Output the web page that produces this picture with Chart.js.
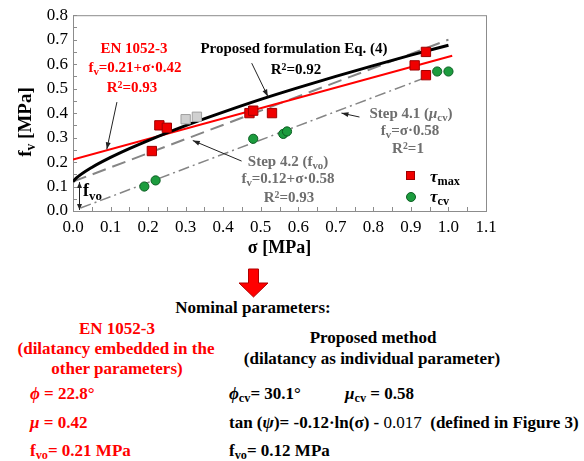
<!DOCTYPE html>
<html>
<head>
<meta charset="utf-8">
<script src="https://cdn.jsdelivr.net/npm/chart.js@4.4.1/dist/chart.umd.min.js"></script>
<style>
  body { margin: 0; background: #fff; }
  #wrap { position: relative; width: 584px; height: 461px; overflow: hidden;
          font-family: "Liberation Serif", "Times New Roman", serif; font-weight: bold; }
  #chartBox { position: absolute; left: 0; top: 0; width: 584px; height: 260px; }
  .t { position: absolute; white-space: nowrap; line-height: 1; }
  .c { transform: translate(-50%, -50%); }
  .l { transform: translate(0, -50%); }
  .a15 { font-size: 15px; }
  .b16 { font-size: 17px; }
  .red { color: #ff0000; }
  .grey { color: #6e6e6e; }
  .sb { font-size: 72%; position: relative; top: 0.28em; }
  .sp { font-size: 65%; position: relative; top: -0.45em; }
  .nb { font-weight: normal; }
  .mk { position: absolute; }
</style>
</head>
<body>
<div id="wrap">
  <div id="chartBox"><canvas id="chart" width="584" height="260"></canvas></div>

  <!-- y axis title -->
  <div class="t" style="left:24px;top:122px;font-size:19px;transform:translate(-50%,-50%) rotate(-90deg);">f<span class="sb">v</span> [MPa]</div>

  <!-- in-chart notes -->
  <div class="t c a15 red" style="left:134px;top:48px;">EN 1052-3</div>
  <div class="t c a15 red" style="left:135px;top:67px;">f<span class="sb">v</span>=0.21+σ·0.42</div>
  <div class="t c a15 red" style="left:132px;top:87px;">R<span class="sp">2</span>=0.93</div>

  <div class="t c a15" style="left:294px;top:48px;">Proposed formulation Eq. (4)</div>
  <div class="t c a15" style="left:296px;top:69px;">R<span class="sp">2</span>=0.92</div>

  <div class="t c a15 grey" style="left:411px;top:113px;">Step 4.1 (<i>μ</i><span class="sb">cv</span>)</div>
  <div class="t c a15 grey" style="left:410px;top:130px;">f<span class="sb">v</span>=σ·0.58</div>
  <div class="t c a15 grey" style="left:408px;top:148px;">R<span class="sp">2</span>=1</div>

  <div class="t c a15 grey" style="left:288px;top:161px;">Step 4.2 (f<span class="sb">vo</span>)</div>
  <div class="t c a15 grey" style="left:288px;top:178px;">f<span class="sb">v</span>=0.12+σ·0.58</div>
  <div class="t c a15 grey" style="left:289px;top:197px;">R<span class="sp">2</span>=0.93</div>

  <div class="t l" style="left:83px;top:190px;font-size:18px;">f<span class="sb">vo</span></div>

  <!-- legend -->
  <div class="mk" style="left:406px;top:171px;width:9px;height:9px;background:#f00000;border:1px solid #a00000;box-sizing:border-box;"></div>
  <div class="mk" style="left:406px;top:192px;width:10px;height:10px;border-radius:50%;background:#1c9c3e;border:1px solid #0b5e22;box-sizing:border-box;"></div>
  <div class="t l" style="left:430px;top:176px;font-size:17px;"><i>τ</i><span class="sb">max</span></div>
  <div class="t l" style="left:430px;top:196px;font-size:17px;"><i>τ</i><span class="sb">cv</span></div>

  <!-- red arrow -->
  <svg style="position:absolute;left:237px;top:268px;" width="34" height="31">
    <polygon points="11.5,1 21.5,1 21.5,15 31,15 16.5,29 2,15 11.5,15" fill="#ff0000" stroke="#b00000" stroke-width="1"/>
  </svg>

  <!-- nominal parameters -->
  <div class="t c b16" style="left:253px;top:307px;">Nominal parameters:</div>
  <div class="t c b16 red" style="left:117px;top:328px;">EN 1052-3</div>
  <div class="t c b16 red" style="left:116px;top:348px;">(dilatancy embedded in the</div>
  <div class="t c b16 red" style="left:117px;top:368px;">other parameters)</div>
  <div class="t c b16" style="left:373px;top:337px;">Proposed method</div>
  <div class="t c b16" style="left:372px;top:358px;">(dilatancy as individual parameter)</div>

  <div class="t l b16 red" style="left:30px;top:393px;"><i>ϕ</i> = 22.8°</div>
  <div class="t l b16 red" style="left:30px;top:422px;"><i>μ</i> = 0.42</div>
  <div class="t l b16 red" style="left:30px;top:450px;">f<span class="sb">vo</span>= 0.21 MPa</div>

  <div class="t l b16" style="left:229px;top:393px;"><i>ϕ</i><span class="sb">cv</span>= 30.1°</div>
  <div class="t l b16" style="left:345px;top:393px;"><i>μ</i><span class="sb">cv</span> = 0.58</div>
  <div class="t l b16" style="left:229px;top:422px;">tan (<i>ψ</i>)= -0.12·ln(σ) - <span class="nb">0.017</span>&nbsp; (defined in Figure 3)</div>
  <div class="t l b16" style="left:229px;top:450px;">f<span class="sb">vo</span>= 0.12 MPa</div>
</div>

<script>
// ---- data ----
const maxSigma = [0.21, 0.23, 0.25, 0.47, 0.48, 0.53, 0.91, 0.94, 0.94];
const maxTau   = [0.245, 0.35, 0.34, 0.40, 0.41, 0.40, 0.595, 0.65, 0.555];

const greySigma = [0.30, 0.33];
const greyTau   = [0.375, 0.385];

const cvSigma = [0.19, 0.22, 0.48, 0.56, 0.57, 0.97, 1.00];
const cvTau   = [0.10, 0.125, 0.295, 0.315, 0.325, 0.57, 0.57];

// Proposed formulation Eq. (4)
const propSigma = [0, 0.01, 0.05, 0.10, 0.15, 0.20, 0.30, 0.40, 0.50, 0.60, 0.70, 0.80, 0.90, 1.00];
const propFv    = [0.12, 0.136, 0.178, 0.219, 0.255, 0.288, 0.349, 0.404, 0.456, 0.504, 0.55, 0.594, 0.637, 0.677];

// EN 1052-3: fv = 0.21 + 0.42 sigma
const enSigma = [0, 1.01];
const enFv    = [0.21, 0.634];

// Step 4.2: fv = 0.12 + 0.58 sigma
const s42Sigma = [0, 1.0];
const s42Fv    = [0.12, 0.70];

// Step 4.1: fv = 0.58 sigma
const s41Sigma = [0.02, 0.97];
const s41Fv    = [0.012, 0.563];

const xTicks = [0, 0.1, 0.2, 0.3, 0.4, 0.5, 0.6, 0.7, 0.8, 0.9, 1.0, 1.1];
const yTicks = [0, 0.1, 0.2, 0.3, 0.4, 0.5, 0.6, 0.7, 0.8];

// note arrows, in data units [sigma, fv]
const noteArrows = [
  { from: [0.117, 0.445], to: [0.090, 0.252] },
  { from: [0.476, 0.604], to: [0.519, 0.468] },
  { from: [0.449, 0.204], to: [0.319, 0.288] },
  { from: [0.763, 0.384], to: [0.715, 0.400] }
];
const fvoArrow = { sigma: 0.016, lo: 0.0, hi: 0.118 };

const pts = (xs, ys) => xs.map((v, i) => ({ x: v, y: ys[i] }));

function arrowHead(ctx, x0, y0, x1, y1, len, wid) {
  const ang = Math.atan2(y1 - y0, x1 - x0);
  ctx.beginPath();
  ctx.moveTo(x1, y1);
  ctx.lineTo(x1 - len * Math.cos(ang) + wid * Math.sin(ang), y1 - len * Math.sin(ang) - wid * Math.cos(ang));
  ctx.lineTo(x1 - len * Math.cos(ang) - wid * Math.sin(ang), y1 - len * Math.sin(ang) + wid * Math.cos(ang));
  ctx.closePath();
  ctx.fill();
}

const framePlugin = {
  id: 'frame',
  beforeDatasetsDraw(chart) {
    const { ctx, chartArea: a, scales: { x, y } } = chart;
    ctx.save();
    ctx.strokeStyle = '#8c8c8c';
    ctx.lineWidth = 1;
    ctx.strokeRect(a.left + 0.5, a.top + 0.5, a.right - a.left, a.bottom - a.top);
    // inward ticks, major + half steps
    ctx.beginPath();
    for (let i = 0; i <= 22; i++) {
      const px = Math.round(x.getPixelForValue(i * 0.05)) + 0.5;
      ctx.moveTo(px, a.bottom);
      ctx.lineTo(px, a.bottom - 4);
    }
    for (let i = 0; i <= 16; i++) {
      const py = Math.round(y.getPixelForValue(i * 0.05)) + 0.5;
      ctx.moveTo(a.left, py);
      ctx.lineTo(a.left + 4, py);
    }
    ctx.stroke();
    ctx.restore();
  },
  afterDatasetsDraw(chart) {
    const { ctx, scales: { x, y } } = chart;
    ctx.save();
    ctx.strokeStyle = '#222';
    ctx.fillStyle = '#222';
    ctx.lineWidth = 1;
    noteArrows.forEach(ar => {
      const x0 = x.getPixelForValue(ar.from[0]), y0 = y.getPixelForValue(ar.from[1]);
      const x1 = x.getPixelForValue(ar.to[0]), y1 = y.getPixelForValue(ar.to[1]);
      ctx.beginPath();
      ctx.moveTo(x0, y0);
      ctx.lineTo(x1, y1);
      ctx.stroke();
      arrowHead(ctx, x0, y0, x1, y1, 7, 2.5);
    });
    const fx = Math.round(x.getPixelForValue(fvoArrow.sigma)) + 0.5;
    const ylo = y.getPixelForValue(fvoArrow.lo) - 1, yhi = y.getPixelForValue(fvoArrow.hi);
    ctx.beginPath();
    ctx.moveTo(fx, ylo);
    ctx.lineTo(fx, yhi);
    ctx.stroke();
    arrowHead(ctx, fx, ylo, fx, yhi, 6, 2.5);
    arrowHead(ctx, fx, yhi, fx, ylo, 6, 2.5);
    ctx.restore();
  }
};

const tickFont = { family: '"Liberation Serif", "Times New Roman", serif', size: 17 };

new Chart(document.getElementById('chart'), {
  type: 'scatter',
  data: {
    datasets: [
      { label: 'τmax', data: pts(maxSigma, maxTau), pointStyle: 'rect', pointRadius: 6.6,
        backgroundColor: '#f00000', borderColor: '#a00000', borderWidth: 1 },
      { label: 'excluded', data: pts(greySigma, greyTau), pointStyle: 'rect', pointRadius: 6.6,
        backgroundColor: '#d0d0d0', borderColor: '#a0a0a0', borderWidth: 1 },
      { label: 'τcv', data: pts(cvSigma, cvTau), pointStyle: 'circle', pointRadius: 4.6,
        backgroundColor: '#1c9c3e', borderColor: '#0b5e22', borderWidth: 1 },
      { label: 'Proposed', data: pts(propSigma, propFv), showLine: true, pointRadius: 0,
        borderColor: '#000', borderWidth: 3, cubicInterpolationMode: 'monotone' },
      { label: 'EN 1052-3', data: pts(enSigma, enFv), showLine: true, pointRadius: 0,
        borderColor: '#ff0000', borderWidth: 2 },
      { label: 'Step 4.2', data: pts(s42Sigma, s42Fv), showLine: true, pointRadius: 0,
        borderColor: '#858585', borderWidth: 2, borderDash: [14, 7] },
      { label: 'Step 4.1', data: pts(s41Sigma, s41Fv), showLine: true, pointRadius: 0,
        borderColor: '#858585', borderWidth: 1.5, borderDash: [11, 4, 2, 4] }
    ]
  },
  options: {
    responsive: false,
    animation: false,
    layout: { padding: { left: 0, top: 15, right: 98, bottom: 0 } },
    plugins: { legend: { display: false }, tooltip: { enabled: false } },
    scales: {
      x: {
        type: 'linear', min: 0, max: 1.1,
        afterBuildTicks: s => { s.ticks = xTicks.map(v => ({ value: v })); },
        afterFit: s => { s.height = 49; },
        grid: { display: false, drawTicks: false },
        border: { display: false },
        ticks: { font: tickFont, color: '#000', padding: 6, maxRotation: 0,
                 callback: v => v.toFixed(1) },
        title: { display: true, text: 'σ [MPa]', color: '#000',
                 font: { family: tickFont.family, size: 18, weight: 'bold' },
                 padding: { top: 0, bottom: 1 } }
      },
      y: {
        type: 'linear', min: 0, max: 0.8,
        afterBuildTicks: s => { s.ticks = yTicks.map(v => ({ value: v })); },
        afterFit: s => { s.width = 73; },
        grid: { display: false, drawTicks: false },
        border: { display: false },
        ticks: { font: tickFont, color: '#000', padding: 5,
                 callback: v => v.toFixed(1) }
      }
    }
  },
  plugins: [framePlugin]
});
</script>
</body>
</html>
